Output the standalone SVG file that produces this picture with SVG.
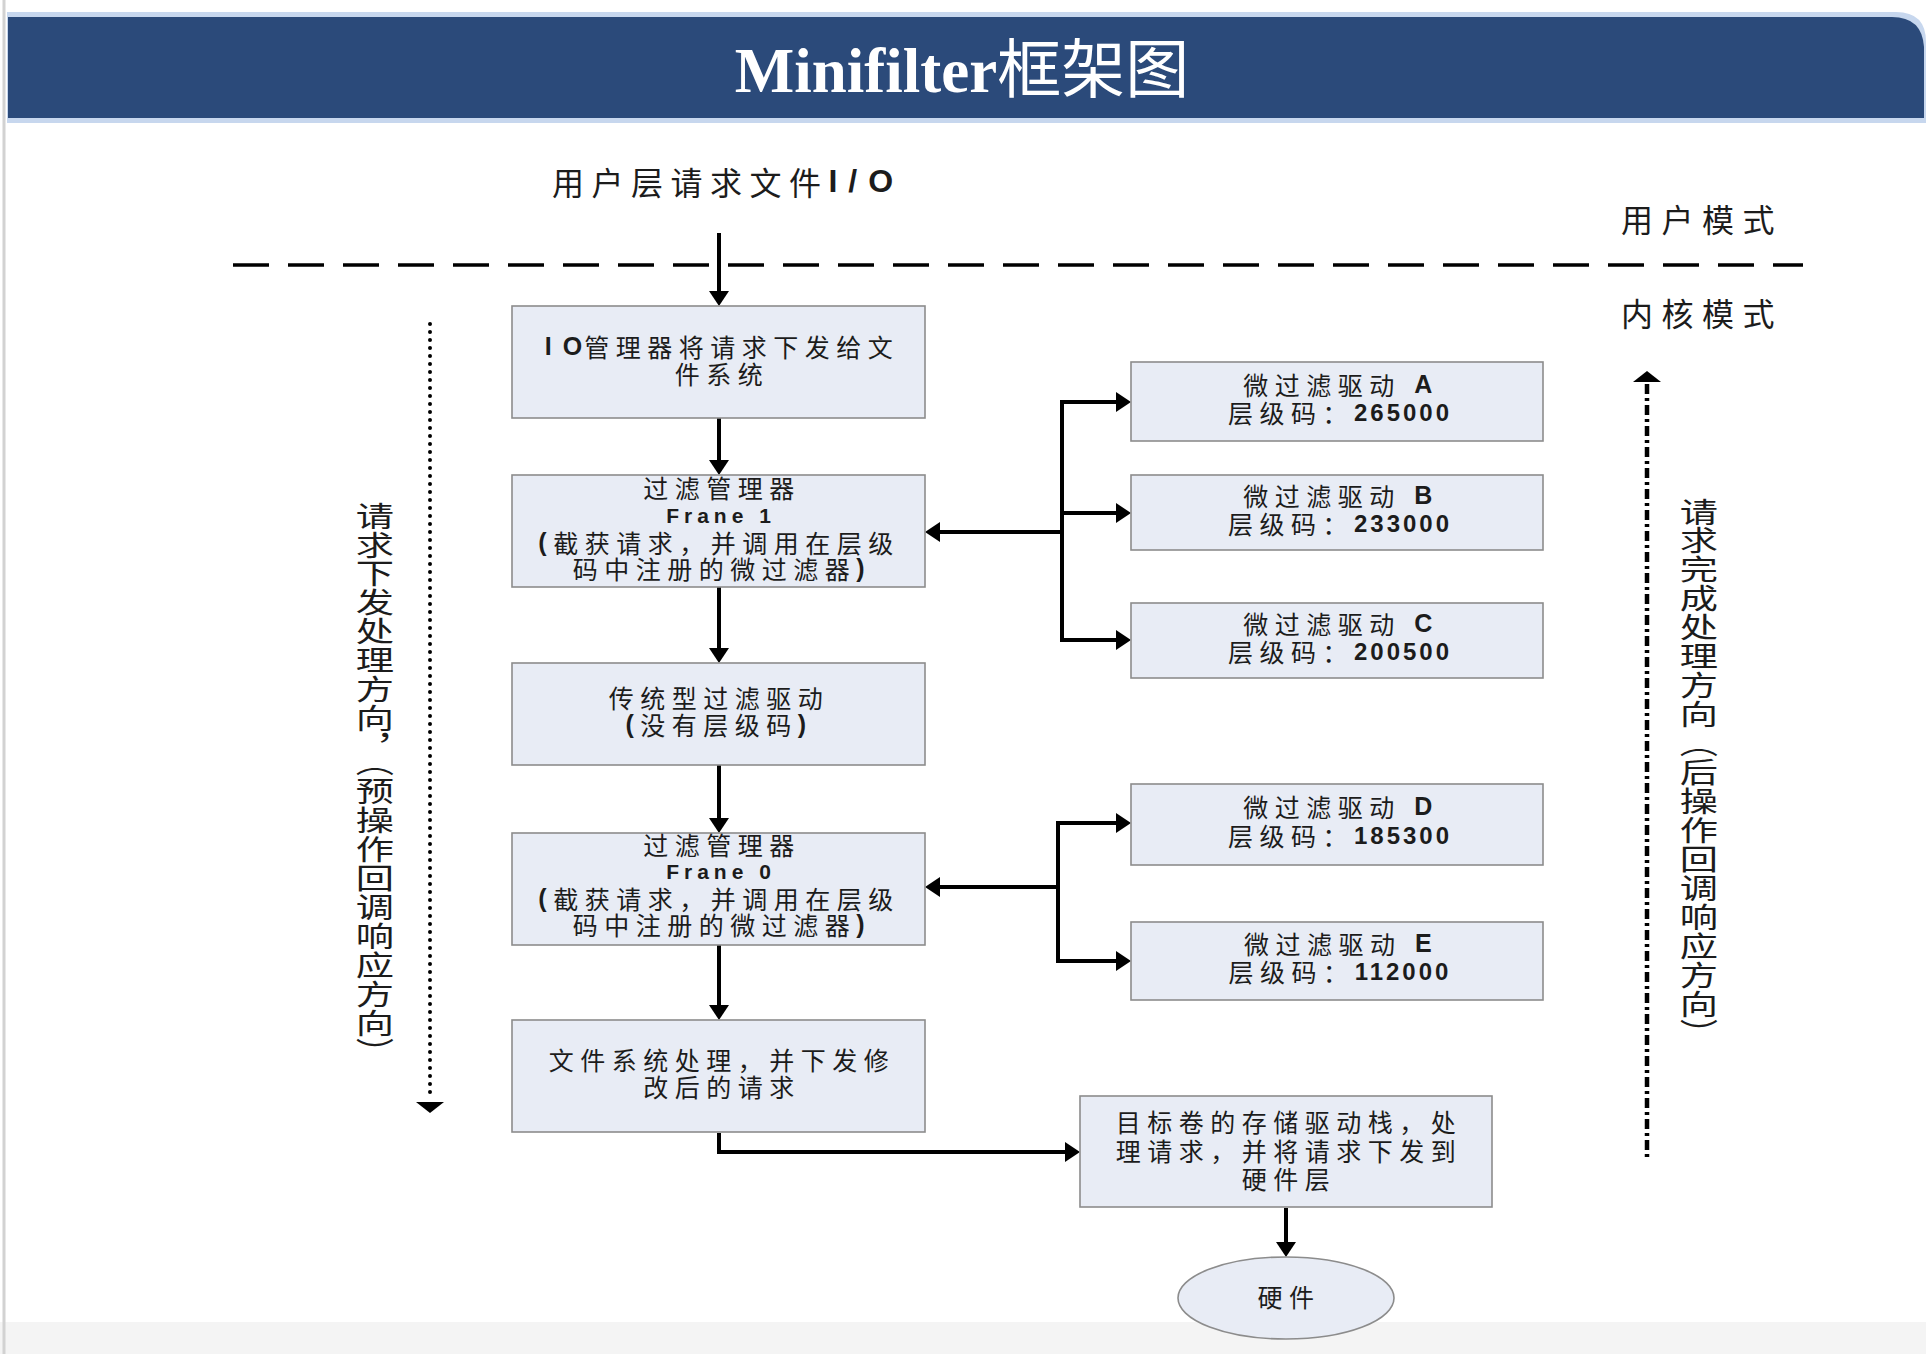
<svg xmlns="http://www.w3.org/2000/svg" width="1926" height="1354" viewBox="0 0 1926 1354">
<style>
.box{fill:#e8ecf5;stroke:#8c8c8c;stroke-width:1.6}
.t{font-family:"Noto Sans CJK SC",sans-serif;font-size:25px;letter-spacing:6.5px;fill:#1c1c1c;text-anchor:middle;dominant-baseline:central}
.b{font-family:"Liberation Sans",Arial,sans-serif;font-weight:bold}
.n{font-size:24px;letter-spacing:3px}
.lbl{font-family:"Noto Sans CJK SC",sans-serif;font-size:32px;fill:#1c1c1c;text-anchor:middle;dominant-baseline:central}
.vt{font-family:"Noto Sans CJK SC",sans-serif;font-size:29px;fill:#1c1c1c;writing-mode:vertical-rl}
.con{fill:none;stroke:#000;stroke-width:4}
</style>
<defs>
<marker id="ah" markerUnits="userSpaceOnUse" markerWidth="15" markerHeight="20" refX="9" refY="10" orient="auto">
<path d="M0,0 L15,10 L0,20 z" fill="#000"/>
</marker>
</defs>
<rect x="0" y="0" width="1926" height="1354" fill="#ffffff"/>
<rect x="0" y="1322" width="1926" height="32" fill="#f4f4f4"/>
<line x1="4" y1="0" x2="4" y2="1354" stroke="#d2d2d2" stroke-width="3"/>
<g id="header">
<path d="M7,12 H1896 Q1926,12 1926,42 V123 H7 Z" fill="#c7d7ee"/>
<path d="M8,17 H1892 Q1922,17 1924,47 V118 H8 Z" fill="#2b4a7a"/>
<text x="962" y="92" text-anchor="middle" fill="#ffffff" style="font-family:'Liberation Serif',serif;font-size:63px;font-weight:bold">Minifilter<tspan style="font-family:'Noto Sans CJK SC',sans-serif;font-weight:normal;font-size:64px">框架图</tspan></text>
</g>
<g id="modes">
<text class="lbl" x="728" y="181" style="letter-spacing:7.5px">用户层请求文件<tspan class="b" style="letter-spacing:11px">I/O</tspan></text>
<line x1="233" y1="265" x2="1803" y2="265" stroke="#000" stroke-width="3.5" stroke-dasharray="36 19"/>
<text class="lbl" x="1702" y="218" style="letter-spacing:8.5px">用户模式</text>
<text class="lbl" x="1702" y="312" style="letter-spacing:8.5px">内核模式</text>
</g>
<g id="connectors">
<line class="con" x1="719" y1="233" x2="719" y2="300" marker-end="url(#ah)"/>
<line class="con" x1="719" y1="418" x2="719" y2="469" marker-end="url(#ah)"/>
<line class="con" x1="719" y1="587" x2="719" y2="657" marker-end="url(#ah)"/>
<line class="con" x1="719" y1="765" x2="719" y2="827" marker-end="url(#ah)"/>
<line class="con" x1="719" y1="945" x2="719" y2="1014" marker-end="url(#ah)"/>
<path class="con" d="M719,1133 V1152 H1074" marker-end="url(#ah)"/>
<line class="con" x1="1286" y1="1208" x2="1286" y2="1251" marker-end="url(#ah)"/>
<line class="con" x1="1062" y1="400" x2="1062" y2="642"/>
<path class="con" d="M1060,402 H1125" marker-end="url(#ah)"/>
<path class="con" d="M1062,513 H1125" marker-end="url(#ah)"/>
<path class="con" d="M1060,640 H1125" marker-end="url(#ah)"/>
<path class="con" d="M1062,532 H931" marker-end="url(#ah)"/>
<line class="con" x1="1058" y1="821" x2="1058" y2="963"/>
<path class="con" d="M1056,823 H1125" marker-end="url(#ah)"/>
<path class="con" d="M1056,961 H1125" marker-end="url(#ah)"/>
<path class="con" d="M1058,887 H931" marker-end="url(#ah)"/>
<line x1="430" y1="324" x2="430" y2="1098" stroke="#000" stroke-width="4" stroke-linecap="round" stroke-dasharray="0 8"/>
<polygon points="416,1102 444,1102 430,1113" fill="#000"/>
<line x1="1647" y1="384" x2="1647" y2="1158" stroke="#000" stroke-width="4.5" stroke-dasharray="10 4 3 4"/>
<polygon points="1633,382 1661,382 1647,371" fill="#000"/>
</g>
<g id="dir-left">
<text class="vt" x="375" y="501" transform="translate(375,0) scale(1.32,1) translate(-375,0)">请求下发处理方向，（预操作回调响应方向）</text>
</g>
<g id="dir-right">
<text class="vt" x="1699" y="497" transform="translate(1699,0) scale(1.32,1) translate(-1699,0)">请求完成处理方向（后操作回调响应方向）</text>
</g>
<g id="n-io">
<rect class="box" x="512" y="306" width="413" height="112"/>
<text class="t"><tspan x="722" y="346"><tspan class="b" style="letter-spacing:2px">I O</tspan>管理器将请求下发给文</tspan><tspan x="722" y="373">件系统</tspan></text>
</g>
<g id="n-frame1">
<rect class="box" x="512" y="475" width="413" height="112"/>
<text class="t"><tspan x="722" y="487">过滤管理器</tspan><tspan x="721" y="515" class="b" style="font-size:21px;letter-spacing:5px">Frane 1</tspan><tspan x="719" y="542"><tspan class="b">(</tspan>截获请求，并调用在层级</tspan><tspan x="722" y="568">码中注册的微过滤器<tspan class="b">)</tspan></tspan></text>
</g>
<g id="n-legacy">
<rect class="box" x="512" y="663" width="413" height="102"/>
<text class="t"><tspan x="719" y="697">传统型过滤驱动</tspan><tspan x="719" y="724"><tspan class="b">(</tspan>没有层级码<tspan class="b">)</tspan></tspan></text>
</g>
<g id="n-frame0">
<rect class="box" x="512" y="833" width="413" height="112"/>
<text class="t"><tspan x="722" y="844">过滤管理器</tspan><tspan x="721" y="871" class="b" style="font-size:21px;letter-spacing:5px">Frane 0</tspan><tspan x="719" y="898"><tspan class="b">(</tspan>截获请求，并调用在层级</tspan><tspan x="722" y="924">码中注册的微过滤器<tspan class="b">)</tspan></tspan></text>
</g>
<g id="n-fs">
<rect class="box" x="512" y="1020" width="413" height="112"/>
<text class="t"><tspan x="722" y="1059">文件系统处理，并下发修</tspan><tspan x="722" y="1086">改后的请求</tspan></text>
</g>
<g id="n-storage">
<rect class="box" x="1080" y="1096" width="412" height="111"/>
<text class="t"><tspan x="1289" y="1121">目标卷的存储驱动栈，处</tspan><tspan x="1289" y="1150">理请求，并将请求下发到</tspan><tspan x="1289" y="1178">硬件层</tspan></text>
</g>
<g id="n-hw">
<ellipse class="box" cx="1286" cy="1298" rx="108" ry="41"/>
<text class="t" x="1289" y="1296">硬件</text>
</g>
<g id="n-a">
<rect class="box" x="1131" y="362" width="412" height="79"/>
<text class="t"><tspan x="1341" y="384">微过滤驱动<tspan class="b"> A</tspan></tspan><tspan x="1340" y="412">层级码：<tspan class="b n">265000</tspan></tspan></text>
</g>
<g id="n-b">
<rect class="box" x="1131" y="475" width="412" height="75"/>
<text class="t"><tspan x="1341" y="495">微过滤驱动<tspan class="b"> B</tspan></tspan><tspan x="1340" y="523">层级码：<tspan class="b n">233000</tspan></tspan></text>
</g>
<g id="n-c">
<rect class="box" x="1131" y="603" width="412" height="75"/>
<text class="t"><tspan x="1341" y="623">微过滤驱动<tspan class="b"> C</tspan></tspan><tspan x="1340" y="651">层级码：<tspan class="b n">200500</tspan></tspan></text>
</g>
<g id="n-d">
<rect class="box" x="1131" y="784" width="412" height="81"/>
<text class="t"><tspan x="1341" y="806">微过滤驱动<tspan class="b"> D</tspan></tspan><tspan x="1340" y="835">层级码：<tspan class="b n">185300</tspan></tspan></text>
</g>
<g id="n-e">
<rect class="box" x="1131" y="922" width="412" height="78"/>
<text class="t"><tspan x="1341" y="943">微过滤驱动<tspan class="b"> E</tspan></tspan><tspan x="1340" y="971">层级码：<tspan class="b n">112000</tspan></tspan></text>
</g>
</svg>
